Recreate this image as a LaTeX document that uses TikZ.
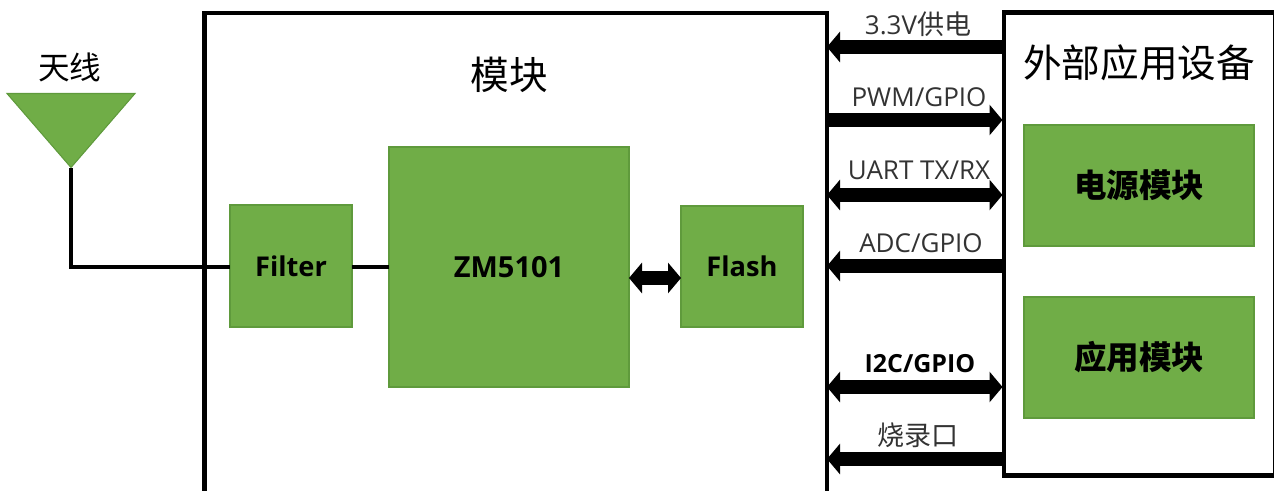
\documentclass[tikz,border=0pt]{standalone}
\usepackage{fontspec}
\setmainfont{Open Sans}
\newfontfamily\cjk{Noto Sans CJK SC}
\usetikzlibrary{arrows.meta,shapes.geometric}
\definecolor{leaf}{HTML}{70AD47}
\definecolor{leafedge}{HTML}{5F9A3C}
\def\px{0.02cm}
\tikzset{
  block/.style={draw=leafedge, line width=0.6pt, fill=leaf, inner sep=0pt, outer sep=0pt, font=\bfseries\fontsize{15.5}{18}\selectfont},
  cnblock/.style={block, font=\cjk\fontsize{18.5}{20}\selectfont},
  wall/.style={line width=4.5*\px, line cap=butt},
  wire/.style={line width=4.5*\px},
  bus/.style={line width=14*\px, {Triangle[length=13*\px, width=30*\px]}-{Triangle[length=13*\px, width=30*\px]}},
  busleft/.style={line width=14*\px, {Triangle[length=13*\px, width=30*\px]}-},
  busright/.style={line width=14*\px, -{Triangle[length=13*\px, width=30*\px]}},
  buslabel/.style={font=\fontsize{14.8}{16}\selectfont, text=black!80},
  title/.style={font=\cjk\fontsize{22}{24}\selectfont}
}
\begin{document}
\begin{tikzpicture}[x=0.02cm, y=-0.02cm]
  \useasboundingbox (0,0) rectangle (1274,490);

  \draw[wall] (204.5,495) |- (827,13) -- (827,495);
  \node[draw, line width=4.5*\px, inner sep=0pt, outer sep=0pt, minimum width=271*\px, minimum height=463*\px] (device) at (1139.5,244) {};

  \node[title] (moduletitle) at (509,75) {模块};
  \node[title] (devicetitle) at (1139,63) {外部应用设备};
  \node[font=\cjk\fontsize{18}{20}\selectfont] (antlabel) at (70,67) {天线};

  \node[draw=leafedge, line width=0.6pt, fill=leaf, isosceles triangle, isosceles triangle stretches, shape border rotate=-90, minimum width=128*\px, minimum height=74*\px, inner sep=0pt, outer sep=0pt, anchor=apex] (antenna) at (71,167.5) {};

  \node[block, minimum width=122*\px, minimum height=122*\px] (filter) at (291,266) {Filter};
  \node[block, minimum width=240*\px, minimum height=240*\px, font=\bfseries\fontsize{16.5}{18}\selectfont] (chip) at (509,267) {ZM5101};
  \node[block, minimum width=122*\px, minimum height=121*\px] (flash) at (742,266.5) {Flash};
  \node[cnblock] (power) [minimum width=230*\px, minimum height=121*\px] at (1139,185.5) {\bfseries 电源模块};
  \node[cnblock] (app) [minimum width=230*\px, minimum height=121*\px] at (1139,357.5) {\bfseries 应用模块};

  \draw[wire] (antenna.apex) |- (filter.west |- 0,267);
  \draw[wire] (filter.east |- 0,267) -- (chip.west |- 0,267);
  \draw[bus] (chip.east |- 0,278) -- (flash.west |- 0,278);

  \coordinate (pin1) at (827,47);    \coordinate (pout1) at (device.west |- 0,47);
  \coordinate (pin2) at (827,120);   \coordinate (pout2) at (1002.5,120);
  \coordinate (pin3) at (827,195);   \coordinate (pout3) at (1002.5,195);
  \coordinate (pin4) at (827,266);   \coordinate (pout4) at (device.west |- 0,266);
  \coordinate (pin5) at (827,387);   \coordinate (pout5) at (1002.5,387);
  \coordinate (pin6) at (827,459);   \coordinate (pout6) at (device.west |- 0,459);

  \draw[busleft] (pin1) -- (pout1);
  \draw[busright] (pin2) -- (pout2);
  \draw[bus] (pin3) -- (pout3);
  \draw[busleft] (pin4) -- (pout4);
  \draw[bus] (pin5) -- (pout5);
  \draw[busleft] (pin6) -- (pout6);

  \node[buslabel] (label1) at (918,24) {3.3V{\cjk\fontsize{15.4}{16}\selectfont 供电}};
  \node[buslabel] (label2) at (919,97) {PWM/GPIO};
  \node[buslabel] (label3) at (919,170) {UART TX/RX};
  \node[buslabel] (label4) at (921,243) {ADC/GPIO};
  \node[buslabel, font=\bfseries\fontsize{14.2}{16}\selectfont, text=black] (label5) at (920,364) {I2C/GPIO};
  \node[buslabel] (label6) at (918,435) {{\cjk\fontsize{15.4}{16}\selectfont 烧录口}};
\end{tikzpicture}
\end{document}
